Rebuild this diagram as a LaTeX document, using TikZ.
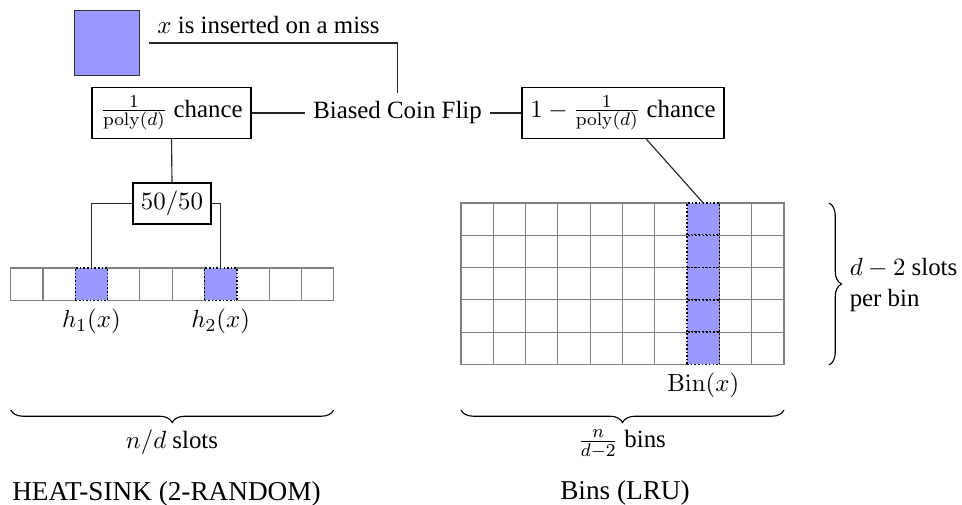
\documentclass[tikz,border=0pt,11pt]{standalone}
\usepackage[no-math]{fontspec}
\setmainfont{Liberation Serif}
\usetikzlibrary{decorations.pathreplacing,calc}
\begin{document}
\begin{tikzpicture}[x=0.4405pt,y=-0.4405pt,
  box/.style={draw=black,line width=0.5pt,inner sep=0pt,align=center},
  cell/.style={draw=black!50,line width=0.5pt,minimum size=0.5cm,inner sep=0pt,outer sep=0pt},
  hit/.style={cell,fill=blue!40,draw=black,line width=0.7pt,dash pattern=on 0.7pt off 0.9pt},
  conn/.style={draw=black!85,line width=0.5pt},
  brc/.style={decorate,decoration={brace,amplitude=5.5pt},line width=0.5pt}]
\useasboundingbox (0,0) rectangle (962,505);

% top part
\node[box,draw=black!80,fill=blue!40,minimum size=1cm] (sq) at (107,43) {};
\node[anchor=base west,inner sep=0pt] (ins) at (157,33.5) {$x$ is inserted on a miss};
\node (coin) at (397.5,113) {Biased Coin Flip};
\node[box,minimum width=70pt,minimum height=22.5pt] (p1) at (171.5,113) {$\frac{1}{\mathrm{poly}(d)}$ chance};
\node[box,minimum width=89pt,minimum height=22.5pt] (p2) at (623,113) {$1-\frac{1}{\mathrm{poly}(d)}$ chance};
\node[box,minimum width=34.4pt,minimum height=18.1pt] (fifty) at (172,203.5) {$50/50$};

% slot array
\foreach \i in {0,1,3,4,5,7,8,9}
  \node[cell] (s\i) at ({26.85+32.3*\i},284.15) {};
\foreach \i in {2,6}
  \node[hit] (s\i) at ({26.85+32.3*\i},284.15) {};

% bin grid
\foreach \j in {0,1,2,3,4,5,6,8,9}
  \foreach \i in {0,...,4}
    \node[cell] (g\j-\i) at ({477.15+32.3*\j},{219.15+32.3*\i}) {};
\foreach \i in {0,...,4}
  \node[hit] (g7-\i) at ({477.15+32.3*7},{219.15+32.3*\i}) {};

% connectors
\draw[conn,shorten <=4pt] (sq.east) -| (coin.north);
\draw[conn] (p1.east) -- (coin.west);
\draw[conn] (coin.east) -- (p2.west);
\draw[conn] (p1.south) -- (fifty.north);
\draw[conn] (fifty.west) -| (s2.north);
\draw[conn] (fifty.east) -| (s6.north);
\draw[conn] (p2) -- (g7-0.north);

% labels
\node[below] (h1) at (s2.south) {$h_1(x)$};
\node[below] (h2) at (s6.south) {$h_2(x)$};
\node[below] (binx) at (g7-4.south) {$\mathrm{Bin}(x)$};

% braces
\draw[brc,decoration={mirror}] (10.7,410) -- (333.7,410);
\draw[brc,decoration={mirror}] (461,410) -- (784,410);
\draw[brc] (829,203) -- (829,365);
\node (nd) at (172,442) {$n/d$ slots};
\node (nb) at (622,444) {$\frac{n}{d-2}$ bins};
\node[align=left,anchor=west] (dslots) at (841,285) {$d-2$ slots\\per bin};

% titles
\node[font=\large] (t1) at (166.5,494) {HEAT-SINK (2-RANDOM)};
\node[font=\large] (t2) at (625,493) {Bins (LRU)};
\end{tikzpicture}
\end{document}
